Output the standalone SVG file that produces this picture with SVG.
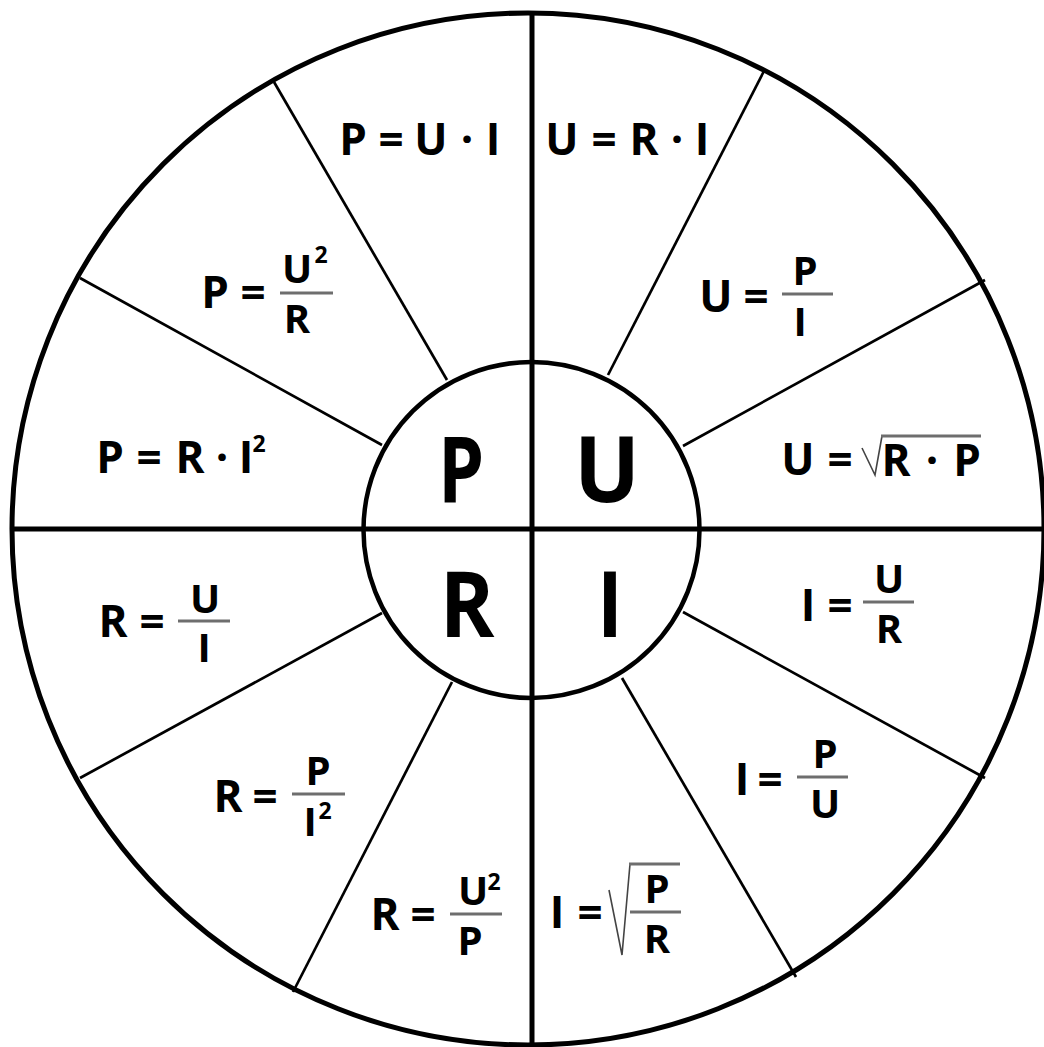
<svg xmlns="http://www.w3.org/2000/svg" width="1044" height="1047" viewBox="0 0 1044 1047">
<style>
.t{font-family:'Open Sans','Liberation Sans',sans-serif;font-weight:700;font-size:44px;text-anchor:middle;fill:#000}
.f{font-size:40px}
.s{font-size:23px}
.big{font-size:92px}
.ln{stroke:#000;fill:none}
.thin{stroke-width:2.7}
.axis{stroke-width:5}
.frac{stroke:#6e6e6e;stroke-width:3;fill:none}
.rad{stroke:#444;stroke-width:1.6;fill:none}
</style>
<rect width="1044" height="1047" fill="#fff"/>
<g id="connectors">
<circle class="ln" cx="528" cy="529" r="516" stroke-width="5"/>
<line class="ln axis" x1="532" y1="13" x2="532" y2="1047"/>
<line class="ln axis" x1="12" y1="529" x2="1044" y2="529"/>
<line class="ln thin" x1="274" y1="82" x2="447" y2="380"/>
<line class="ln thin" x1="80" y1="278" x2="382" y2="445"/>
<line class="ln thin" x1="80" y1="778" x2="382" y2="613"/>
<line class="ln thin" x1="293" y1="992" x2="452" y2="682"/>
<line class="ln thin" x1="796" y1="977" x2="622" y2="678"/>
<line class="ln thin" x1="985" y1="778" x2="683" y2="612"/>
<line class="ln thin" x1="985" y1="280" x2="683" y2="446"/>
<line class="ln thin" x1="764" y1="71" x2="608" y2="375"/>
<circle cx="531.5" cy="530" r="168" fill="#fff" stroke="#000" stroke-width="4.5"/>
<line class="ln axis" x1="532" y1="362" x2="532" y2="698"/>
<line class="ln axis" x1="364" y1="529" x2="700" y2="529"/>
</g>
<g id="node-P"><text class="t big" transform="translate(461,502) scale(0.8,1)">P</text></g>
<g id="node-U"><text class="t big" transform="translate(607,502) scale(0.95,1)">U</text></g>
<g id="node-R"><text class="t big" transform="translate(467,637) scale(0.9,1)">R</text></g>
<g id="node-I"><text class="t big" transform="translate(610,637) scale(0.85,1)">I</text></g>

<g id="f-P-UI"><text class="t" y="155"><tspan x="353">P</tspan><tspan x="391">=</tspan><tspan x="431">U</tspan><tspan x="467">·</tspan><tspan x="493">I</tspan></text></g>
<g id="f-U-RI"><text class="t" y="155"><tspan x="562">U</tspan><tspan x="604">=</tspan><tspan x="644">R</tspan><tspan x="677">·</tspan><tspan x="702">I</tspan></text></g>
<g id="f-P-U2R">
<text class="t" y="308"><tspan x="215">P</tspan><tspan x="253">=</tspan></text>
<text class="t f" x="297" y="283">U</text><text class="t s" x="321" y="263">2</text>
<line class="frac" x1="280" y1="293" x2="333" y2="293"/>
<text class="t f" x="297" y="333">R</text>
</g>
<g id="f-U-PI">
<text class="t" y="312"><tspan x="716">U</tspan><tspan x="756">=</tspan></text>
<text class="t f" x="805" y="285">P</text>
<line class="frac" x1="782" y1="294" x2="833" y2="294"/>
<text class="t f" x="800" y="336">I</text>
</g>
<g id="f-U-sqrtRP">
<text class="t" y="475"><tspan x="798">U</tspan><tspan x="840">=</tspan></text>
<polyline class="rad" points="862,448 875,475 882,436"/>
<line class="frac" x1="881" y1="436" x2="981" y2="436"/>
<text class="t" y="476"><tspan x="896">R</tspan><tspan x="932">·</tspan><tspan x="967">P</tspan></text>
</g>
<g id="f-P-RI2">
<text class="t" y="473"><tspan x="110">P</tspan><tspan x="149">=</tspan><tspan x="190">R</tspan><tspan x="222">·</tspan><tspan x="246">I</tspan></text>
<text class="t s" x="259" y="452">2</text>
</g>
<g id="f-R-UI">
<text class="t" y="637"><tspan x="113">R</tspan><tspan x="152">=</tspan></text>
<text class="t f" x="205" y="613">U</text>
<line class="frac" x1="178" y1="621" x2="230" y2="621"/>
<text class="t f" x="204" y="662">I</text>
</g>
<g id="f-I-UR">
<text class="t" y="621"><tspan x="808">I</tspan><tspan x="840">=</tspan></text>
<text class="t f" x="889" y="593">U</text>
<line class="frac" x1="863" y1="602" x2="914" y2="602"/>
<text class="t f" x="889" y="643">R</text>
</g>
<g id="f-I-PU">
<text class="t" y="795"><tspan x="742">I</tspan><tspan x="770">=</tspan></text>
<text class="t f" x="825" y="768">P</text>
<line class="frac" x1="797" y1="777" x2="848" y2="777"/>
<text class="t f" x="825" y="818">U</text>
</g>
<g id="f-R-PI2">
<text class="t" y="812"><tspan x="228">R</tspan><tspan x="265">=</tspan></text>
<text class="t f" x="318" y="785">P</text>
<line class="frac" x1="292" y1="794" x2="345" y2="794"/>
<text class="t f" x="310" y="836">I</text><text class="t s" x="325" y="819">2</text>
</g>
<g id="f-R-U2P">
<text class="t" y="930"><tspan x="385">R</tspan><tspan x="423">=</tspan></text>
<text class="t f" x="473" y="905">U</text><text class="t s" x="494" y="890">2</text>
<line class="frac" x1="450" y1="914" x2="502" y2="914"/>
<text class="t f" x="470" y="955">P</text>
</g>
<g id="f-I-sqrtPR">
<text class="t" y="928"><tspan x="557">I</tspan><tspan x="590">=</tspan></text>
<polyline class="rad" points="609,890 622,955 630,864"/>
<line class="frac" x1="629" y1="864" x2="680" y2="864"/>
<line class="frac" x1="630" y1="912" x2="681" y2="912"/>
<text class="t f" x="657" y="903">P</text>
<text class="t f" x="657" y="953">R</text>
</g>
</svg>
